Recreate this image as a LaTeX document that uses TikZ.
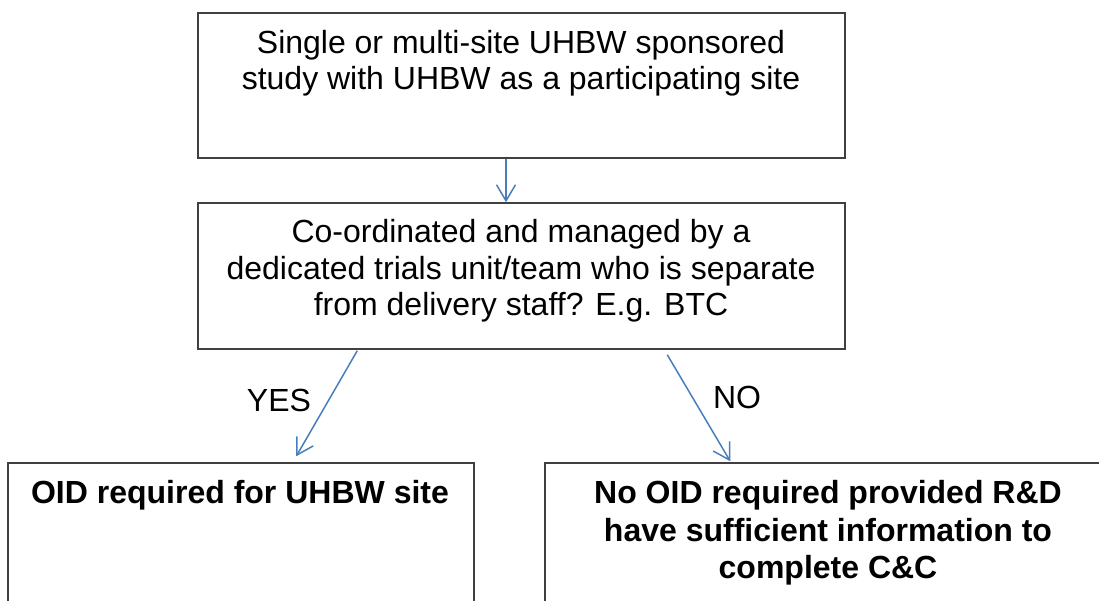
\documentclass[tikz,border=0pt]{standalone}
\usepackage{fontspec}
\setmainfont{Liberation Sans}
\usetikzlibrary{arrows.meta,calc}
\definecolor{arrowblue}{HTML}{4A7EBB}
\definecolor{boxline}{HTML}{404040}
\begin{document}
\begin{tikzpicture}[x=1pt,y=-1pt,
  box/.style={draw=boxline,line width=1.5pt,rectangle,inner sep=0pt},
  txt/.style={align=center,font=\fontsize{32}{36.5}\selectfont,inner sep=0pt},
  flow/.style={draw=arrowblue,line width=1.5pt,-{Straight Barb[length=16pt,width=19pt]}}]
\useasboundingbox (0,0) rectangle (1099,601);
\clip (0,0) rectangle (1099,601);
% boxes
\node[box,minimum width=647pt,minimum height=145pt] (b1) at (521.5,85.5) {};
\node[box,minimum width=647pt,minimum height=146pt] (b2) at (521.5,276) {};
\node[box,minimum width=466pt,minimum height=160pt] (b3) at (241,543) {};
\node[box,minimum width=566pt,minimum height=160pt] (b4) at (828,543) {};
% texts
\node[txt] (t1) at (521,63) {Single or multi-site UHBW sponsored\\study with UHBW as a participating site};
\node[txt] (t2) at (521,271) {Co-ordinated and managed by a\\dedicated trials unit/team who is separate\\from delivery staff? E.g. BTC};
\node[txt,font=\fontsize{32}{36.5}\selectfont\bfseries] (t3) at (240,495) {OID required for UHBW site};
\node[txt,font=\fontsize{32}{37.5}\selectfont\bfseries] (t4) at (828,533) {No OID required provided R\&D\\have sufficient information to\\complete C\&C};
% labels
\node[txt] (yes) at (279,400) {YES};
\node[txt] (no) at (737,397) {NO};
% connectors
\draw[flow] ([xshift=-15.5pt]b1.south) -- ([xshift=-15.5pt]b2.north);
\draw[flow] ($(b2.south west)+(160,1)$) -- ($(b3.north west)+(289,-6)$);
\draw[flow] ($(b2.south west)+(470,5)$) -- ($(b4.north west)+(186,-1)$);
\end{tikzpicture}
\end{document}
